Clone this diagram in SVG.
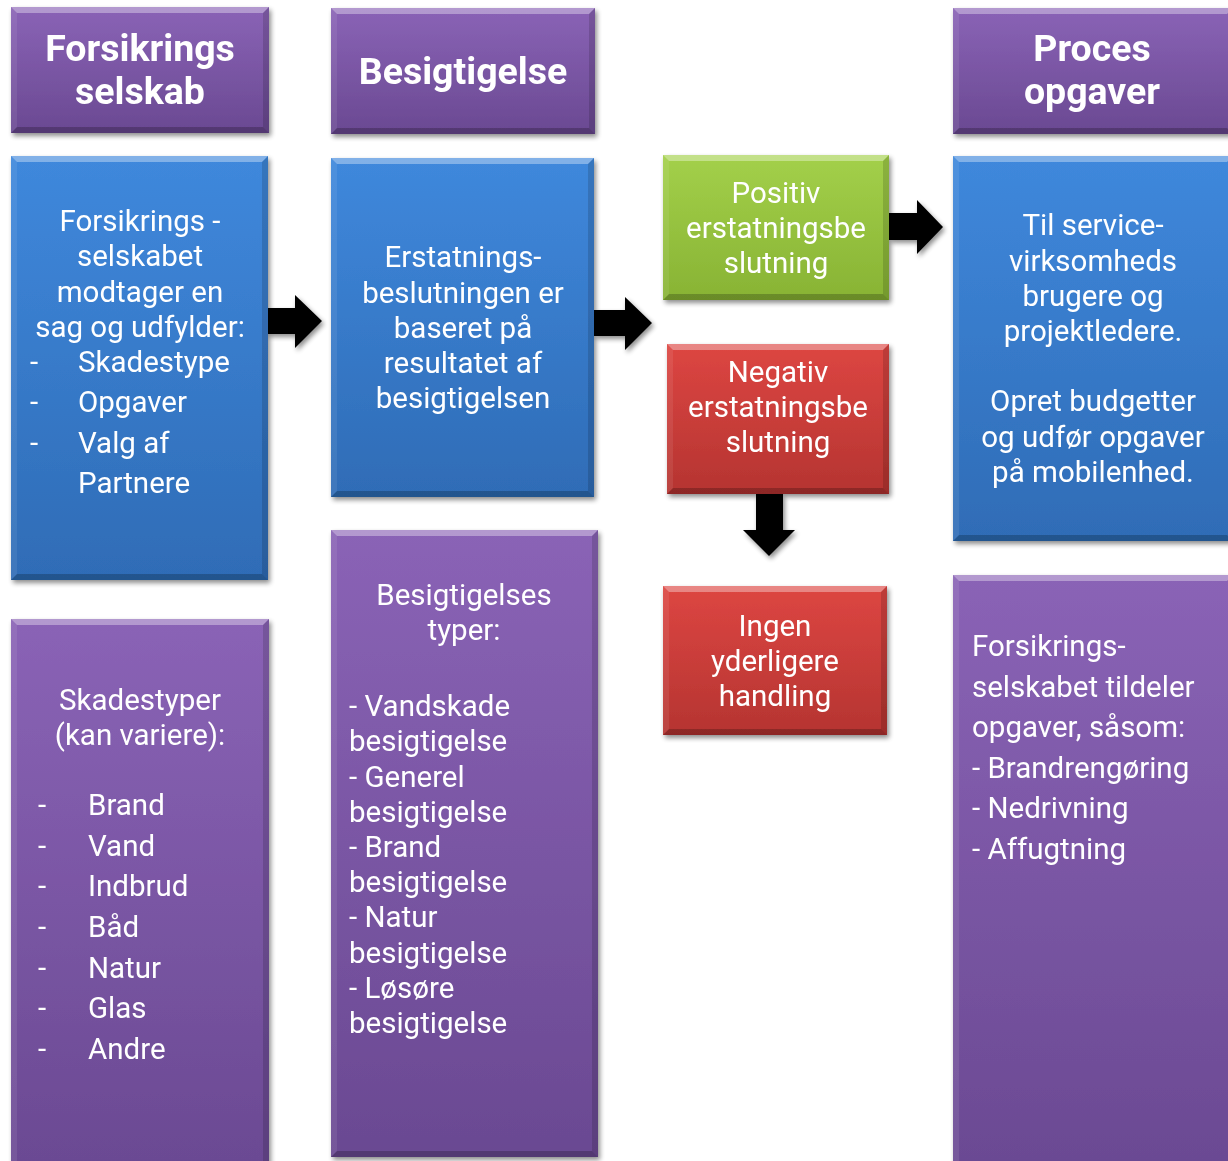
<svg xmlns="http://www.w3.org/2000/svg" width="1228" height="1161" viewBox="0 0 1228 1161">
<defs>
<linearGradient id="gP" x1="0" y1="0" x2="0" y2="1"><stop offset="0" stop-color="#8a63b6"/><stop offset="1" stop-color="#6a4992"/></linearGradient>
<linearGradient id="gB" x1="0" y1="0" x2="0" y2="1"><stop offset="0" stop-color="#3f88dc"/><stop offset="1" stop-color="#2f6cb6"/></linearGradient>
<linearGradient id="gG" x1="0" y1="0" x2="0" y2="1"><stop offset="0" stop-color="#a3d04a"/><stop offset="1" stop-color="#88b334"/></linearGradient>
<linearGradient id="gR" x1="0" y1="0" x2="0" y2="1"><stop offset="0" stop-color="#dd4642"/><stop offset="1" stop-color="#b53431"/></linearGradient>
<filter id="sh" x="-10%" y="-10%" width="130%" height="130%"><feGaussianBlur in="SourceAlpha" stdDeviation="2.5"/><feOffset dx="2" dy="3" result="o"/><feComponentTransfer><feFuncA type="linear" slope="0.45"/></feComponentTransfer><feMerge><feMergeNode/><feMergeNode in="SourceGraphic"/></feMerge></filter>
</defs>
<style>
.t{font-family:Roboto,"Liberation Sans",sans-serif;fill:#fff;font-size:29.5px}
.h{font-family:Roboto,"Liberation Sans",sans-serif;fill:#fff;font-size:37.5px;font-weight:bold}
.c{text-anchor:middle}
.bt{fill:#fff;opacity:.35}
.bb{fill:#000;opacity:.22}
.bl{fill:#fff;opacity:.08}
.br{fill:#000;opacity:.14}
.ar{fill:#000}
</style>
<rect width="1228" height="1161" fill="#fff"/>
<g id="connectors" filter="url(#sh)">
<polygon class="ar" points="267,308 295,308 295,295 322,321 295,348 295,334 267,334"/>
<polygon class="ar" points="594,310 625,310 625,297 652,323 625,350 625,336 594,336"/>
<polygon class="ar" points="889,213 917,213 917,200 943,227 917,254 917,240 889,240"/>
<polygon class="ar" points="756,494 783,494 783,530 795,530 769,556 743,530 756,530"/>
</g>
<g id="hdr1" filter="url(#sh)">
<rect x="11" y="7" width="258" height="126" fill="url(#gP)"/>
<polygon class="bt" points="11,7 269,7 263,13 17,13"/><polygon class="bb" points="11,133 269,133 263,127 17,127"/><polygon class="bl" points="11,7 17,13 17,127 11,133"/><polygon class="br" points="269,7 263,13 263,127 269,133"/>
<text class="h c" x="140" y="61">Forsikrings</text><text class="h c" x="140" y="104">selskab</text>
</g>
<g id="hdr2" filter="url(#sh)">
<rect x="331" y="8" width="264" height="126" fill="url(#gP)"/>
<polygon class="bt" points="331,8 595,8 589,14 337,14"/><polygon class="bb" points="331,134 595,134 589,128 337,128"/><polygon class="bl" points="331,8 337,14 337,128 331,134"/><polygon class="br" points="595,8 589,14 589,128 595,134"/>
<text class="h c" x="463" y="84">Besigtigelse</text>
</g>
<g id="hdr3" filter="url(#sh)">
<rect x="953" y="8" width="280" height="126" fill="url(#gP)"/>
<polygon class="bt" points="953,8 1233,8 1227,14 959,14"/><polygon class="bb" points="953,134 1233,134 1227,128 959,128"/><polygon class="bl" points="953,8 959,14 959,128 953,134"/>
<text class="h c" x="1092" y="61">Proces</text><text class="h c" x="1092" y="104">opgaver</text>
</g>
<g id="blue1" filter="url(#sh)">
<rect x="11" y="156" width="257" height="424" fill="url(#gB)"/>
<polygon class="bt" points="11,156 268,156 262,162 17,162"/><polygon class="bb" points="11,580 268,580 262,574 17,574"/><polygon class="bl" points="11,156 17,162 17,574 11,580"/><polygon class="br" points="268,156 262,162 262,574 268,580"/>
<text class="t c" x="140" y="231">Forsikrings -</text>
<text class="t c" x="140" y="266">selskabet</text>
<text class="t c" x="140" y="302">modtager en</text>
<text class="t c" x="140" y="337">sag og udfylder:</text>
<text class="t" x="30" y="372">-</text><text class="t" x="78" y="372">Skadestype</text>
<text class="t" x="30" y="412">-</text><text class="t" x="78" y="412">Opgaver</text>
<text class="t" x="30" y="453">-</text><text class="t" x="78" y="453">Valg af</text>
<text class="t" x="78" y="493">Partnere</text>
</g>
<g id="blue2" filter="url(#sh)">
<rect x="331" y="158" width="263" height="339" fill="url(#gB)"/>
<polygon class="bt" points="331,158 594,158 588,164 337,164"/><polygon class="bb" points="331,497 594,497 588,491 337,491"/><polygon class="bl" points="331,158 337,164 337,491 331,497"/><polygon class="br" points="594,158 588,164 588,491 594,497"/>
<text class="t c" x="463" y="267">Erstatnings-</text>
<text class="t c" x="463" y="303">beslutningen er</text>
<text class="t c" x="463" y="338">baseret på</text>
<text class="t c" x="463" y="373">resultatet af</text>
<text class="t c" x="463" y="408">besigtigelsen</text>
</g>
<g id="positiv" filter="url(#sh)">
<rect x="663" y="155" width="226" height="145" fill="url(#gG)"/>
<polygon class="bt" points="663,155 889,155 883,161 669,161"/><polygon class="bb" points="663,300 889,300 883,294 669,294"/><polygon class="bl" points="663,155 669,161 669,294 663,300"/><polygon class="br" points="889,155 883,161 883,294 889,300"/>
<text class="t c" x="776" y="203">Positiv</text>
<text class="t c" x="776" y="238">erstatningsbe</text>
<text class="t c" x="776" y="273">slutning</text>
</g>
<g id="negativ" filter="url(#sh)">
<rect x="667" y="344" width="222" height="150" fill="url(#gR)"/>
<polygon class="bt" points="667,344 889,344 883,350 673,350"/><polygon class="bb" points="667,494 889,494 883,488 673,488"/><polygon class="bl" points="667,344 673,350 673,488 667,494"/><polygon class="br" points="889,344 883,350 883,488 889,494"/>
<text class="t c" x="778" y="382">Negativ</text>
<text class="t c" x="778" y="417">erstatningsbe</text>
<text class="t c" x="778" y="452">slutning</text>
</g>
<g id="ingen" filter="url(#sh)">
<rect x="663" y="586" width="224" height="149" fill="url(#gR)"/>
<polygon class="bt" points="663,586 887,586 881,592 669,592"/><polygon class="bb" points="663,735 887,735 881,729 669,729"/><polygon class="bl" points="663,586 669,592 669,729 663,735"/><polygon class="br" points="887,586 881,592 881,729 887,735"/>
<text class="t c" x="775" y="636">Ingen</text>
<text class="t c" x="775" y="671">yderligere</text>
<text class="t c" x="775" y="706">handling</text>
</g>
<g id="blue3" filter="url(#sh)">
<rect x="953" y="156" width="280" height="385" fill="url(#gB)"/>
<polygon class="bt" points="953,156 1233,156 1227,162 959,162"/><polygon class="bb" points="953,541 1233,541 1227,535 959,535"/><polygon class="bl" points="953,156 959,162 959,535 953,541"/>
<text class="t c" x="1093" y="235">Til service-</text>
<text class="t c" x="1093" y="271">virksomheds</text>
<text class="t c" x="1093" y="306">brugere og</text>
<text class="t c" x="1093" y="341">projektledere.</text>
<text class="t c" x="1093" y="411">Opret budgetter</text>
<text class="t c" x="1093" y="447">og udfør opgaver</text>
<text class="t c" x="1093" y="482">på mobilenhed.</text>
</g>
<g id="purple1" filter="url(#sh)">
<rect x="11" y="619" width="258" height="560" fill="url(#gP)"/>
<polygon class="bt" points="11,619 269,619 263,625 17,625"/><polygon class="bl" points="11,619 17,625 17,1179 11,1179"/><polygon class="br" points="269,619 263,625 263,1179 269,1179"/>
<text class="t c" x="140" y="710">Skadestyper</text>
<text class="t c" x="140" y="745">(kan variere):</text>
<text class="t" x="38" y="815">-</text><text class="t" x="88" y="815">Brand</text>
<text class="t" x="38" y="856">-</text><text class="t" x="88" y="856">Vand</text>
<text class="t" x="38" y="896">-</text><text class="t" x="88" y="896">Indbrud</text>
<text class="t" x="38" y="937">-</text><text class="t" x="88" y="937">Båd</text>
<text class="t" x="38" y="978">-</text><text class="t" x="88" y="978">Natur</text>
<text class="t" x="38" y="1018">-</text><text class="t" x="88" y="1018">Glas</text>
<text class="t" x="38" y="1059">-</text><text class="t" x="88" y="1059">Andre</text>
</g>
<g id="purple2" filter="url(#sh)">
<rect x="331" y="530" width="267" height="627" fill="url(#gP)"/>
<polygon class="bt" points="331,530 598,530 592,536 337,536"/><polygon class="bb" points="331,1157 598,1157 592,1151 337,1151"/><polygon class="bl" points="331,530 337,536 337,1151 331,1157"/><polygon class="br" points="598,530 592,536 592,1151 598,1157"/>
<text class="t c" x="464" y="605">Besigtigelses</text>
<text class="t c" x="464" y="640">typer:</text>
<text class="t" x="349" y="716">- Vandskade</text>
<text class="t" x="349" y="751">besigtigelse</text>
<text class="t" x="349" y="787">- Generel</text>
<text class="t" x="349" y="822">besigtigelse</text>
<text class="t" x="349" y="857">- Brand</text>
<text class="t" x="349" y="892">besigtigelse</text>
<text class="t" x="349" y="927">- Natur</text>
<text class="t" x="349" y="963">besigtigelse</text>
<text class="t" x="349" y="998">- Løsøre</text>
<text class="t" x="349" y="1033">besigtigelse</text>
</g>
<g id="purple3" filter="url(#sh)">
<rect x="953" y="575" width="280" height="604" fill="url(#gP)"/>
<polygon class="bt" points="953,575 1233,575 1227,581 959,581"/><polygon class="bl" points="953,575 959,581 959,1179 953,1179"/>
<text class="t" x="972" y="656">Forsikrings-</text>
<text class="t" x="972" y="697">selskabet tildeler</text>
<text class="t" x="972" y="737">opgaver, såsom:</text>
<text class="t" x="972" y="778">- Brandrengøring</text>
<text class="t" x="972" y="818">- Nedrivning</text>
<text class="t" x="972" y="859">- Affugtning</text>
</g>
</svg>
